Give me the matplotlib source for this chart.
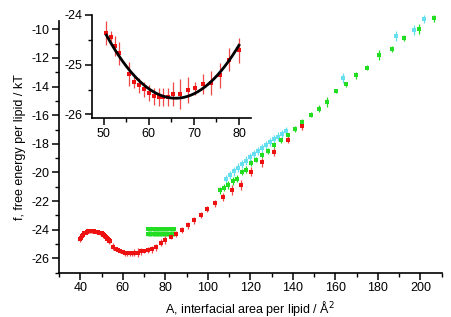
import numpy as np
import matplotlib
matplotlib.use('Agg')
import matplotlib.pyplot as plt
from matplotlib.ticker import MultipleLocator

plt.rcParams['font.family'] = ['Liberation Sans', 'DejaVu Sans']
plt.rcParams['axes.unicode_minus'] = False

# red series: hump at small area
red_hump_A = [40.0, 40.5, 41.0, 41.5, 42.0, 42.5, 43.0, 43.5, 44.0, 44.5, 45.0, 45.5, 46.0, 46.5,
              47.0, 47.5, 48.0, 48.5, 49.0, 49.5, 50.0, 50.5, 51.0, 51.5, 52.0, 52.5, 53.0, 53.5, 54.0]
red_hump_f = [-24.68, -24.55, -24.45, -24.35, -24.26, -24.2, -24.15, -24.12, -24.1, -24.09, -24.08,
              -24.09, -24.1, -24.11, -24.13, -24.14, -24.16, -24.18, -24.2, -24.22, -24.25, -24.3,
              -24.35, -24.42, -24.48, -24.55, -24.62, -24.7, -24.77]
red_hump_err = [0.2, 0.15, 0.12, 0.12, 0.12, 0.12, 0.12, 0.12, 0.12, 0.12, 0.12, 0.12, 0.12, 0.12,
                0.12, 0.12, 0.12, 0.12, 0.12, 0.12, 0.12, 0.12, 0.12, 0.12, 0.13, 0.13, 0.15, 0.15, 0.18]

# red series around the minimum (also shown in the inset)
inset_A = [50.6, 51.6, 52.4, 53.3, 55.6, 56.7, 57.8, 58.9, 60.0, 61.1, 62.2, 63.2, 64.3, 65.4,
           67.0, 68.6, 70.2, 72.1, 73.8, 75.8, 77.8, 80.0]
inset_f = [-24.37, -24.45, -24.63, -24.77, -25.19, -25.34, -25.41, -25.49, -25.56, -25.63, -25.65,
           -25.64, -25.64, -25.59, -25.59, -25.51, -25.47, -25.39, -25.37, -25.21, -24.9, -24.71]
inset_err = [0.24, 0.13, 0.2, 0.23, 0.24, 0.12, 0.15, 0.15, 0.16, 0.17, 0.18, 0.18, 0.18, 0.24,
             0.3, 0.26, 0.13, 0.2, 0.24, 0.25, 0.23, 0.25]

# red series, large area
red_high_A = [82.8, 85.2, 87.8, 90.7, 93.5, 96.6, 99.8, 103.2, 107.1, 111.5, 115.8, 120.5, 125.6,
              131.2, 137.7, 144.3]
red_high_f = [-24.5, -24.3, -24.0, -23.7, -23.35, -22.95, -22.55, -22.15, -21.72, -21.25, -20.85,
              -19.95, -19.3, -18.55, -17.72, -16.78]
red_high_err = [0.18, 0.2, 0.2, 0.22, 0.22, 0.22, 0.22, 0.25, 0.3, 0.35, 0.35, 0.3, 0.3, 0.28, 0.25, 0.25]

# green series: flat block and the rising branch
green_block_A = [72.0, 72.5, 73.0, 73.5, 74.0, 74.5, 75.0, 75.5, 76.0, 76.5, 77.0, 77.5, 78.0,
                 78.5, 79.0, 79.5, 80.0, 80.5, 81.0, 81.5, 82.0, 82.5, 83.0, 83.5, 84.0]
green_block_top = [-23.95] * len(green_block_A)
green_block_bot = [-24.3] * len(green_block_A)
green_A = [105.6, 107.4, 109.5, 111.9, 113.9, 116.1, 118.1, 120.5, 122.8, 125.6, 128.3, 131.1,
           134.3, 137.7, 140.9, 144.3, 148.4, 152.3, 156.2, 160.5, 165.2, 169.9, 175.1, 180.5,
           186.4, 192.3, 199.2, 206.3]
green_f = [-21.25, -21.06, -20.9, -20.6, -20.43, -19.97, -19.8, -19.34, -19.1, -18.8, -18.5, -18.1,
           -17.76, -17.4, -16.94, -16.47, -15.96, -15.54, -15.07, -14.3, -13.83, -13.2, -12.67,
           -11.8, -11.4, -10.6, -10.0, -9.24]
green_err = [0.25, 0.25, 0.28, 0.25, 0.25, 0.22, 0.22, 0.2, 0.2, 0.2, 0.18, 0.18, 0.18, 0.15,
             0.2, 0.22, 0.2, 0.25, 0.35, 0.15, 0.18, 0.25, 0.15, 0.35, 0.2, 0.2, 0.35, 0.22]

# cyan series
cyan_A = [108.4, 110.3, 112.2, 114.0, 115.9, 117.8, 119.7, 121.6, 123.4, 125.3, 127.2, 129.1,
          131.0, 132.8, 134.7, 136.6, 163.4, 188.5, 196.9, 201.6]
cyan_f = [-20.45, -20.18, -19.92, -19.66, -19.42, -19.18, -18.95, -18.72, -18.5, -18.29, -18.08,
          -17.87, -17.68, -17.49, -17.3, -17.12, -13.4, -10.5, -10.07, -9.3]
cyan_err = [0.3] * 16 + [0.37, 0.35, 0.35, 0.28]

RED = '#ee1111'
RED_ERR = '#f04848'
GREEN = '#22dd22'
CYAN = '#66e0f0'


def draw(ax, x, y, e, color, ecolor=None, ms=2.4):
    ax.errorbar(x, y, yerr=e, fmt='s', color=color, ecolor=ecolor or color, ms=ms, mew=0,
                elinewidth=0.9, capsize=2.0, capthick=0.9, clip_on=False, zorder=3)


fig = plt.figure(figsize=(4.52, 3.17), dpi=100)
ax = fig.add_axes([0.1305, 0.1397, 0.8467, 0.795])

draw(ax, green_block_A, green_block_top, [0.12] * len(green_block_A), GREEN)
draw(ax, green_block_A, green_block_bot, [0.12] * len(green_block_A), GREEN)
draw(ax, cyan_A, cyan_f, cyan_err, CYAN)
draw(ax, green_A, green_f, green_err, GREEN)
draw(ax, red_hump_A, red_hump_f, red_hump_err, RED, RED_ERR)
draw(ax, inset_A, inset_f, inset_err, RED, RED_ERR)
draw(ax, red_high_A, red_high_f, red_high_err, RED, RED_ERR)

ax.set_xlim(30, 210)
ax.set_ylim(-27, -9.4)
ax.set_xticks(range(40, 201, 20))
ax.xaxis.set_minor_locator(MultipleLocator(10))
ax.set_yticks(range(-26, -9, 2))
ax.yaxis.set_minor_locator(MultipleLocator(1))
for s in ['top', 'right']:
    ax.spines[s].set_visible(False)
for s in ['left', 'bottom']:
    ax.spines[s].set_linewidth(1.2)
ax.tick_params(which='major', length=5, width=1.1, labelsize=9, pad=2)
ax.tick_params(which='minor', length=3, width=1.0)
ax.set_xlabel('A, interfacial area per lipid / Å$^2$', fontsize=9, labelpad=3)
ax.set_ylabel('f, free energy per lipid / kT', fontsize=9, labelpad=4)

# inset
axi = fig.add_axes([0.2046, 0.6278, 0.35, 0.3259])
draw(axi, inset_A, inset_f, inset_err, RED, RED_ERR)
coef = np.polyfit(inset_A, inset_f, 2)
xfit = np.linspace(inset_A[0], inset_A[-1], 200)
axi.plot(xfit, np.polyval(coef, xfit), color='black', lw=2, zorder=4)
axi.set_xlim(47.5, 82.6)
axi.set_ylim(-26.07, -24.0)
axi.set_xticks([50, 60, 70, 80])
axi.xaxis.set_minor_locator(MultipleLocator(5))
axi.set_yticks([-26, -25, -24])
axi.yaxis.set_minor_locator(MultipleLocator(0.5))
for s in ['top', 'right']:
    axi.spines[s].set_visible(False)
for s in ['left', 'bottom']:
    axi.spines[s].set_linewidth(1.2)
axi.tick_params(which='major', length=5, width=1.1, labelsize=9, pad=2)
axi.tick_params(which='minor', length=3, width=1.0)
axi.patch.set_alpha(0)

fig.savefig('out.png', dpi=100)
